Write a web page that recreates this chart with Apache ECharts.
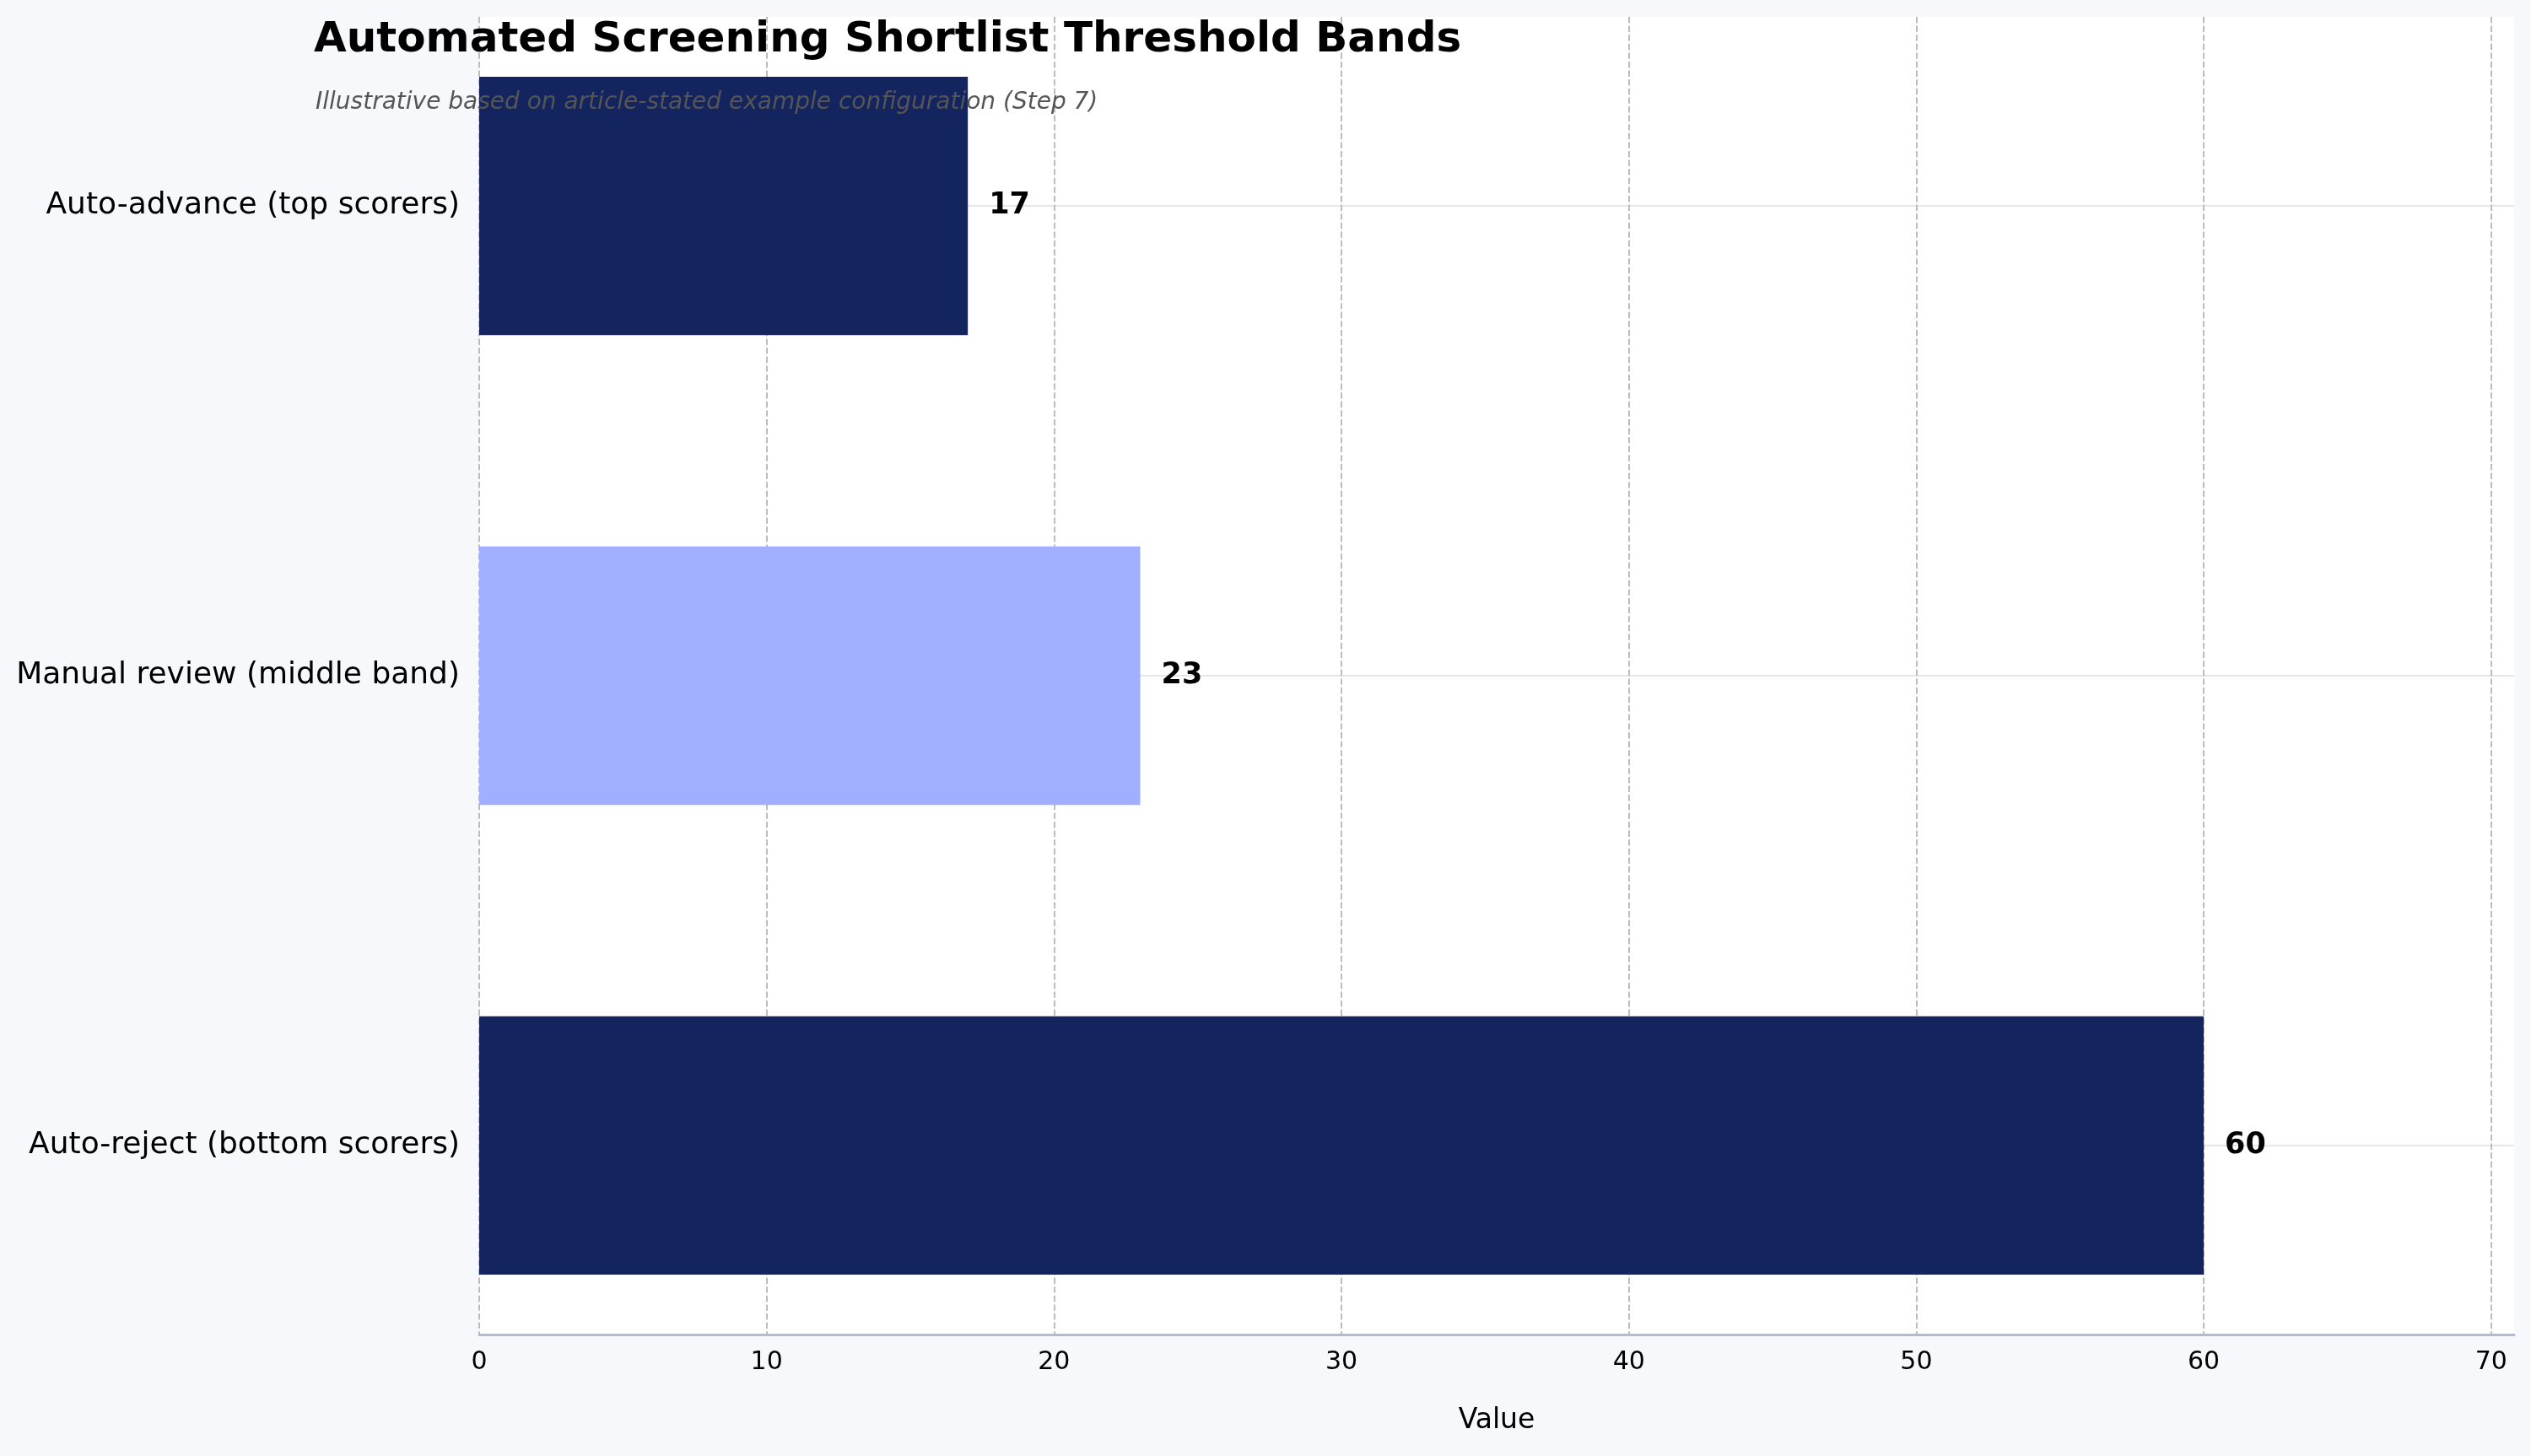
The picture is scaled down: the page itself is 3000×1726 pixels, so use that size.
<!DOCTYPE html>
<html>
<head>
<meta charset="utf-8">
<title>Automated Screening Shortlist Threshold Bands</title>
<script src="https://cdn.jsdelivr.net/npm/echarts@6/dist/echarts.min.js"></script>
<style>
  html, body { margin: 0; padding: 0; background: #f7f8fc; }
  #chart { width: 3000px; height: 1726px; }
</style>
</head>
<body>
<div id="chart"></div>
<script>
// 数据
var categories = ['Auto-reject (bottom scorers)', 'Manual review (middle band)', 'Auto-advance (top scorers)'];
var values = [60, 23, 17];
var barColors = ['#14245e', '#a0afff', '#14245e'];
var xTicks = [0, 10, 20, 30, 40, 50, 60, 70];

var FONT = 'DejaVu Sans';
var barHalf = 0.275; // half bar thickness, in category units

var myChart = echarts.init(document.getElementById('chart'));

var seriesData = values.map(function (v, i) { return [v, i]; });

var option = {
	backgroundColor: '#f7f8fc',
	animation: false,
	title: [{
		text: 'Automated Screening Shortlist Threshold Bands',
		left: 367,
		top: 18,
		textStyle: { fontFamily: FONT, fontSize: 50, fontWeight: 'bold', color: '#000' }
	}, {
		text: 'Illustrative based on article-stated example configuration (Step 7)',
		left: 369,
		top: 103,
		textStyle: { fontFamily: FONT, fontSize: 28, fontStyle: 'italic', fontWeight: 'normal', color: '#555555' }
	}],
	grid: {
		left: 568,
		right: 20,
		top: 20,
		bottom: 144,
		show: true,
		backgroundColor: '#ffffff',
		borderWidth: 0
	},
	xAxis: {
		type: 'value',
		min: 0,
		max: 70.8,
		interval: 10,
		name: 'Value',
		nameLocation: 'middle',
		nameGap: 86,
		nameTextStyle: { fontFamily: FONT, fontSize: 33, color: '#000' },
		axisLine: { show: true, onZero: false, lineStyle: { color: '#b3bbd0', width: 3 } },
		axisTick: { show: false },
		axisLabel: {
			fontFamily: FONT, fontSize: 30, color: '#000', margin: 18,
			showMaxLabel: false,
			formatter: function (v) { return xTicks.indexOf(v) >= 0 ? String(v) : ''; }
		},
		splitLine: {
			show: true,
			showMaxLine: false,
			lineStyle: { color: '#bdbdbd', width: 2, type: [7.4, 3.2] }
		}
	},
	yAxis: {
		type: 'value',
		min: -0.4025,
		max: 2.4025,
		splitNumber: 2,
		axisLine: { show: false, onZero: false },
		axisTick: { show: false },
		axisLabel: {
			fontFamily: FONT, fontSize: 36, color: '#000', margin: 23,
			showMinLabel: false, showMaxLabel: false,
			formatter: function (v) {
				return (Math.abs(v - Math.round(v)) < 1e-6 && categories[Math.round(v)]) ? categories[Math.round(v)] : '';
			}
		},
		splitLine: {
			show: true,
			showMinLine: false,
			showMaxLine: false,
			lineStyle: { color: '#e6e6e6', width: 2 }
		}
	},
	series: [{
		type: 'custom',
		data: seriesData,
		encode: { x: 0, y: 1 },
		renderItem: function (params, api) {
			var val = api.value(0);
			var idx = api.value(1);
			var p0 = api.coord([0, idx + barHalf]);
			var p1 = api.coord([val, idx - barHalf]);
			var mid = api.coord([val, idx]);
			return {
				type: 'group',
				children: [{
					type: 'rect',
					shape: { x: p0[0], y: p0[1], width: p1[0] - p0[0], height: p1[1] - p0[1] },
					style: { fill: barColors[idx] }
				}, {
					type: 'text',
					x: mid[0] + 25,
					y: mid[1],
					style: {
						text: String(val),
						font: 'bold 35px "DejaVu Sans"',
						fill: '#000',
						verticalAlign: 'middle',
						align: 'left'
					}
				}]
			};
		}
	}]
};

myChart.setOption(option);
window.addEventListener('resize', function () {
	myChart.resize();
});
</script>
</body>
</html>
